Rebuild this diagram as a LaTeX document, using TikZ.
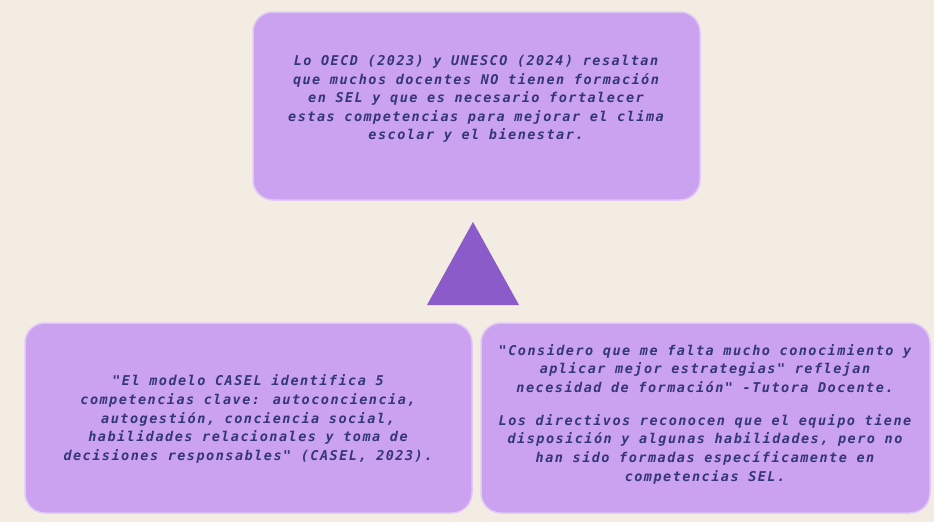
\documentclass[tikz,border=0pt]{standalone}
\usepackage{fontspec}
\newfontfamily\boxfont[LetterSpace=11]{DejaVu Sans Mono}
\definecolor{bgc}{HTML}{F3ECE2}
\definecolor{boxc}{HTML}{CBA2EF}
\definecolor{boxedge}{HTML}{E2C8F6}
\definecolor{txtc}{HTML}{34357A}
\definecolor{tric}{HTML}{8A5BC9}
\tikzset{
  panel/.style={fill=boxc, draw=boxedge, line width=1.5pt, rounded corners=20pt},
  paneltext/.style={text=txtc, align=center, inner sep=0pt,
    font=\boxfont\bfseries\itshape\fontsize{13.5}{18.6}\selectfont}
}
\begin{document}
\begin{tikzpicture}[x=1pt,y=-1pt]
\fill[bgc] (0,0) rectangle (934,522);
\useasboundingbox (0,0) rectangle (934,522);
% boxes
\draw[panel] (253,12) rectangle (700,200);
\draw[panel] (25,323) rectangle (472,513);
\draw[panel] (481,323) rectangle (930,513);
% triangle
\fill[tric] (473,222) -- (519,305) -- (427,305) -- cycle;
% texts
\node[paneltext] (top) at (476,99) {Lo OECD (2023) y UNESCO (2024) resaltan\\
que muchos docentes NO tienen formación\\
en SEL y que es necesario fortalecer\\
estas competencias para mejorar el clima\\
escolar y el bienestar.};
\node[paneltext] (left) at (248,419) {"El modelo CASEL identifica 5\\
competencias clave: autoconciencia,\\
autogestión, conciencia social,\\
habilidades relacionales y toma de\\
decisiones responsables" (CASEL, 2023).};
\node[paneltext] (right) at (705,414) {"Considero que me falta mucho conocimiento y\\
aplicar mejor estrategias" reflejan\\
necesidad de formación" -Tutora Docente.\\[14.5pt]
Los directivos reconocen que el equipo tiene\\
disposición y algunas habilidades, pero no\\
han sido formadas específicamente en\\
competencias SEL.};
\end{tikzpicture}
\end{document}
